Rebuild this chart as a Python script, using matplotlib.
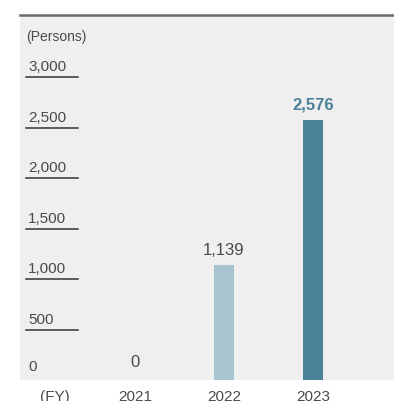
import matplotlib.pyplot as plt
import matplotlib.transforms as mtransforms

plt.rcParams['font.family'] = ['Liberation Sans', 'DejaVu Sans']

years = ['2021', '2022', '2023']
persons = [0, 1139, 2576]
bar_colors = ['#a7c4d0', '#a7c4d0', '#4b8199']
yticks = [500, 1000, 1500, 2000, 2500, 3000]
ytick_labels = ['500', '1,000', '1,500', '2,000', '2,500', '3,000']

W, H = 394, 401
fig = plt.figure(figsize=(W / 100, H / 100), dpi=100)
fig.patch.set_facecolor('white')

# panel: x 20..394, y 15..380 (pixels from top)
ax = fig.add_axes([20 / W, (H - 380) / H, 374 / W, 365 / H])
ax.set_facecolor('#efefef')
for s in ax.spines.values():
    s.set_visible(False)
ax.set_xticks([])
ax.set_yticks([])

px_per_unit = (380 - 120) / 2576
ax.set_ylim(0, 365 / px_per_unit)
step = 89
ax.set_xlim((20 - 135) / step, (394 - 135) / step)

xs = list(range(len(years)))
ax.bar(xs[1:], persons[1:], width=20 / step, color=bar_colors[1:], zorder=2)

# top rule
ax.axhline(365 / px_per_unit, color='#6a6a6a', lw=1.8, clip_on=False)

# y "ticks": short underlines with labels above
trans = mtransforms.blended_transform_factory(ax.transAxes, ax.transData)
x0, x1 = 6 / 374, 58 / 374
for v, lab in zip(yticks, ytick_labels):
    ax.plot([x0, x1], [v, v], color='#333333', lw=1.1, transform=trans, zorder=3)
    ax.text(x0 + 2 / 374, v + 3 / px_per_unit, lab, transform=trans, ha='left',
            va='bottom', fontsize=11, color='#4a4a4a')
ax.text(x0 + 2 / 374, 6 / px_per_unit, '0', transform=trans, ha='left',
        va='bottom', fontsize=11, color='#4a4a4a')
ax.text(x0, 343 / px_per_unit, '(Persons)', transform=trans, ha='left',
        va='center', fontsize=10, color='#4a4a4a')

# value labels
ax.text(xs[0], 10 / px_per_unit, '0', ha='center', va='bottom',
        fontsize=12, color='#4a4a4a')
ax.text(xs[1], persons[1] + 7 / px_per_unit, '1,139', ha='center', va='bottom',
        fontsize=12, color='#4a4a4a')
ax.text(xs[2], persons[2] + 8 / px_per_unit, '2,576', ha='center', va='bottom',
        fontsize=12, fontweight='bold', color='#4b8199')

# x labels below the panel
xtrans = mtransforms.blended_transform_factory(ax.transData, fig.transFigure)
for x, y in zip(xs, years):
    ax.text(x, (H - 390) / H, y, transform=xtrans, ha='center', va='top',
            fontsize=11, color='#4a4a4a')
ax.text((55 - 135) / step, (H - 390) / H, '(FY)', transform=xtrans,
        ha='center', va='top', fontsize=11, color='#4a4a4a')

fig.savefig('out.png', dpi=100)
